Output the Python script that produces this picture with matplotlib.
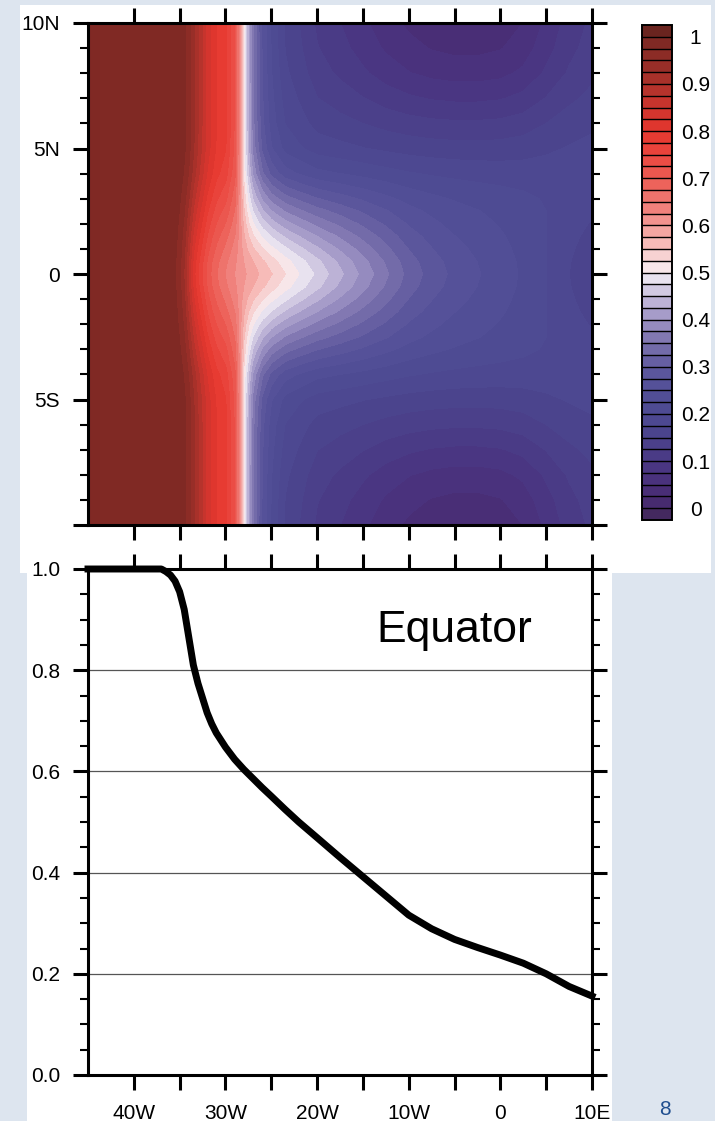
import numpy as np
import matplotlib
matplotlib.use('Agg')
import matplotlib.pyplot as plt
from matplotlib.colors import LinearSegmentedColormap, ListedColormap
from matplotlib.patches import Rectangle
from matplotlib.ticker import MultipleLocator

plt.rcParams['font.family'] = ['Liberation Sans', 'DejaVu Sans']

#%% data
# longitude (negative = W)
lon = np.array([-45, -40, -37, -36.5, -36, -35.5, -35, -34.5, -34, -33.5, -33,
                -32.5, -32, -31.5, -31, -30, -29, -28.5, -28,
                -27.5, -27, -26, -25, -23.5, -22, -20, -17.5, -15, -12.5, -10,
                -7.5, -5, -2.5, 0, 2.5, 5, 7.5, 10])
# equator profile (lower panel)
eq_prof = np.array([1.0, 1.0, 1.0, 0.995, 0.988, 0.976, 0.955, 0.92, 0.865,
                    0.81, 0.774, 0.745, 0.716, 0.694, 0.676, 0.648, 0.624, 0.614,
                    0.604,
                    0.595, 0.586, 0.568, 0.551, 0.525, 0.5, 0.469, 0.43, 0.392,
                    0.354, 0.316, 0.289, 0.268, 0.252, 0.237, 0.221, 0.2, 0.175,
                    0.156])
# profile away from the equator (5-10 N/S)
off_prof = np.array([1, 1, 1, 1, 1, 1, 0.99, 0.98, 0.96, 0.93, 0.9, 0.87, 0.84,
                     0.82, 0.8, 0.78, 0.72, 0.62, 0.5,
                     0.42, 0.36, 0.29, 0.25, 0.22, 0.21, 0.2, 0.2, 0.2, 0.2, 0.2,
                     0.2, 0.2, 0.2, 0.2, 0.2, 0.2, 0.2, 0.2])
# darker purple towards the NE / SE corners
corner_dark = np.array([0, 0, 0, 0, 0, 0, 0, 0, 0, 0, 0, 0, 0, 0, 0, 0, 0, 0, 0,
                        0, 0.01, 0.02, 0.03, 0.05, 0.06, 0.08, 0.1, 0.12, 0.14,
                        0.155, 0.165, 0.17, 0.17, 0.165, 0.15, 0.12, 0.09, 0.07])
lat = np.array([-10, -9, -8, -7, -6, -5, -4, -3, -2.5, -2, -1.5, -1, -0.5, 0,
                0.5, 1, 1.5, 2, 2.5, 3, 4, 5, 6, 7, 8, 9, 10])
w_eq = np.array([0, 0, 0, 0, 0, 0.03, 0.15, 0.38, 0.5, 0.62, 0.74, 0.85, 0.95,
                 1.0, 0.95, 0.85, 0.74, 0.62, 0.5, 0.38, 0.15, 0.03, 0, 0, 0, 0, 0])
w_corner = np.array([1.0, 0.92, 0.8, 0.62, 0.42, 0.25, 0.1, 0.02, 0, 0, 0, 0, 0, 0,
                     0, 0, 0, 0, 0, 0.02, 0.1, 0.25, 0.42, 0.62, 0.8, 0.92, 1.0])

xtick_vals = [-40, -35, -30, -25, -20, -15, -10, -5, 0, 5, 10]
xtick_labels = ['40W', '', '30W', '', '20W', '', '10W', '', '0', '', '10E']
latlab_vals = [-10, -5, 0, 5, 10]
latlab = ['', '5S', '0', '5N', '10N']
ytick_vals = [0, 0.2, 0.4, 0.6, 0.8, 1.0]
ytick_labels = ['0.0', '0.2', '0.4', '0.6', '0.8', '1.0']

field = off_prof[None, :] + w_eq[:, None] * (eq_prof - off_prof)[None, :] \
    - w_corner[:, None] * corner_dark[None, :]

#%% colours
anchors = [(0.0, '#462a6c'), (0.05, '#4a2f7a'), (0.1, '#4a3985'), (0.15, '#4b428c'),
           (0.2, '#4d4a92'), (0.25, '#524f97'), (0.3, '#5e589e'), (0.35, '#7a71ad'),
           (0.4, '#9d93c4'), (0.45, '#c4bbdb'), (0.5, '#f6f1f6'), (0.55, '#f8c8c6'),
           (0.6, '#f39b97'), (0.65, '#ef7a74'), (0.7, '#ec5d55'), (0.75, '#ea4840'),
           (0.8, '#e6372e'), (0.85, '#cf352e'), (0.9, '#b0322b'), (0.95, '#932d27'),
           (1.0, '#7a2823')]
base = LinearSegmentedColormap.from_list('bwr_ncl', anchors)
levels = np.arange(0, 1.0001, 0.025)
mids = 0.5 * (levels[:-1] + levels[1:])
cmap = ListedColormap([base(m) for m in mids])
cmap.set_under('#44295f')
cmap.set_over('#6a241f')

#%% figure
W, H = 715, 1121
fig = plt.figure(figsize=(W / 100, H / 100), dpi=100, facecolor='#dde5ef')
fig.patches.append(Rectangle((20 / W, 1 - 573 / H), 691 / W, 568 / H,
                             transform=fig.transFigure, fc='white', ec='none', zorder=-5))
fig.patches.append(Rectangle((27 / W, 0), 585 / W, 1 - 573 / H,
                             transform=fig.transFigure, fc='white', ec='none', zorder=-5))

ax1 = fig.add_axes([88 / W, 1 - 525 / H, 504 / W, 502 / H])
ax2 = fig.add_axes([88 / W, 1 - 1075 / H, 504 / W, 506 / H])
cax = fig.add_axes([642 / W, 1 - 520 / H, 30 / W, 495 / H])

cs = ax1.contourf(lon, lat, field, levels=levels, cmap=cmap, vmin=0, vmax=1,
                  extend='both')
cs.set_edgecolor('face')
cs.set_linewidth(0.4)
ax1.set_xlim(-45, 10)
ax1.set_ylim(-10, 10)
ax1.set_xticks(xtick_vals)
ax1.set_xticklabels([])
ax1.set_yticks(latlab_vals)
ax1.set_yticklabels(latlab)
ax1.yaxis.set_minor_locator(MultipleLocator(1))

ax2.plot(lon, eq_prof, color='k', lw=5, solid_joinstyle='round', clip_on=False,
         zorder=5)
ax2.set_xlim(-45, 10)
ax2.set_ylim(0, 1)
ax2.set_xticks(xtick_vals)
ax2.set_xticklabels(xtick_labels)
ax2.set_yticks(ytick_vals)
ax2.set_yticklabels(ytick_labels)
ax2.yaxis.set_minor_locator(MultipleLocator(0.05))
ax2.grid(axis='y', color='#555555', lw=0.9)
ax2.text(-13.5, 0.856, 'Equator', fontsize=32, ha='left', va='baseline')

for ax in (ax1, ax2):
    for s in ax.spines.values():
        s.set_linewidth(2.2)
    ax.tick_params(which='major', direction='out', length=11, width=2.2,
                   top=True, right=True, labelsize=15, pad=9)
    ax.tick_params(which='minor', direction='out', length=6, width=1.5,
                   top=False, bottom=False, left=True, right=True)
ax2.tick_params(axis='x', pad=10)

cb = fig.colorbar(cs, cax=cax, drawedges=True, extendrect=True, extendfrac=0.025)
cb.outline.set_linewidth(1.4)
cb.dividers.set_linewidth(1.0)
cb.dividers.set_color('k')
cb.set_ticks(np.arange(0, 1.001, 0.1))
cb.set_ticklabels(['0', '0.1', '0.2', '0.3', '0.4', '0.5', '0.6', '0.7', '0.8',
                   '0.9', '1'])
cax.tick_params(length=0, labelsize=15, pad=17)
for t in cax.get_yticklabels():
    t.set_horizontalalignment('center')

fig.text(665 / W, 1 - 1100 / H, '8', color='#1f4e8f', fontsize=15,
         ha='center', va='top')

fig.savefig('out.png', dpi=100, facecolor=fig.get_facecolor())
